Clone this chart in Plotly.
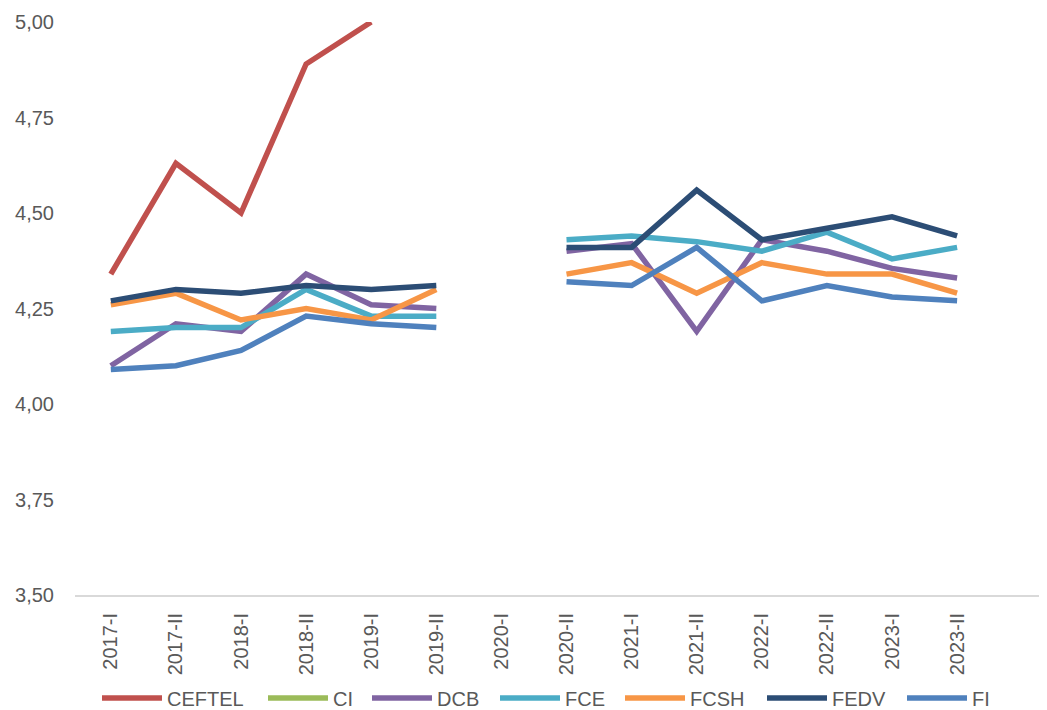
import plotly.graph_objects as go

periods = ["2017-I", "2017-II", "2018-I", "2018-II", "2019-I", "2019-II", "2020-I",
           "2020-II", "2021-I", "2021-II", "2022-I", "2022-II", "2023-I", "2023-II"]

ceftel = [4.34, 4.63, 4.50, 4.89, 5.00, None, None,
          None, None, None, None, None, None, None]
ci = [None] * 14
dcb = [4.10, 4.21, 4.19, 4.34, 4.26, 4.25, None,
       4.40, 4.42, 4.19, 4.43, 4.40, 4.355, 4.33]
fce = [4.19, 4.20, 4.20, 4.30, 4.23, 4.23, None,
       4.43, 4.44, 4.425, 4.40, 4.45, 4.38, 4.41]
fcsh = [4.26, 4.29, 4.22, 4.25, 4.22, 4.30, None,
        4.34, 4.37, 4.29, 4.37, 4.34, 4.34, 4.29]
fedv = [4.27, 4.30, 4.29, 4.31, 4.30, 4.31, None,
        4.41, 4.41, 4.56, 4.43, 4.46, 4.49, 4.44]
fi = [4.09, 4.10, 4.14, 4.23, 4.21, 4.20, None,
      4.32, 4.31, 4.41, 4.27, 4.31, 4.28, 4.27]

series = [
    ("CEFTEL", ceftel, "#C0504D"),
    ("CI", ci, "#9BBB59"),
    ("DCB", dcb, "#8064A2"),
    ("FCE", fce, "#4BACC6"),
    ("FCSH", fcsh, "#F79646"),
    ("FEDV", fedv, "#2C4D75"),
    ("FI", fi, "#4F81BD"),
]

# left edge (px) of each legend entry, one small legend per series
legend_left = [89, 255, 359, 487, 612, 754, 894]

fig = go.Figure()
layout_legends = {}
for i, (name, vals, color) in enumerate(series):
    key = "legend" if i == 0 else f"legend{i + 1}"
    fig.add_trace(go.Scatter(
        x=periods, y=vals, name=name, mode="lines",
        line=dict(color=color, width=5.5),
        connectgaps=False, legend=key,
    ))
    layout_legends[key] = dict(
        xref="container", x=legend_left[i] / 1039, xanchor="left",
        yref="container", y=0.017, yanchor="middle",
        font=dict(size=20, color="#595959"), itemwidth=60,
        bgcolor="rgba(0,0,0,0)",
    )

# page body has an 8px margin, so the figure is sized to fit the window
fig.update_layout(
    width=1039, height=702,
    paper_bgcolor="white", plot_bgcolor="white",
    margin=dict(l=67, r=2, t=14, b=115, autoexpand=False),
    separators=",.",
    font=dict(family="Liberation Sans, Arial, sans-serif", size=20, color="#595959"),
    showlegend=True,
    **layout_legends,
)
fig.update_xaxes(
    type="category", range=[-0.55, 14.35], automargin=False,
    tickangle=-90, showgrid=False, showline=True, linecolor="#D9D9D9", linewidth=2,
    ticks="", ticklabelstandoff=8, tickfont=dict(size=20, color="#595959"),
)
fig.update_yaxes(
    range=[3.5, 5.0], dtick=0.25, tickformat=".2f", automargin=False,
    showgrid=False, zeroline=False, showline=False, ticklabelstandoff=20,
    tickfont=dict(size=20, color="#595959"),
)

fig.write_html("out.html")
